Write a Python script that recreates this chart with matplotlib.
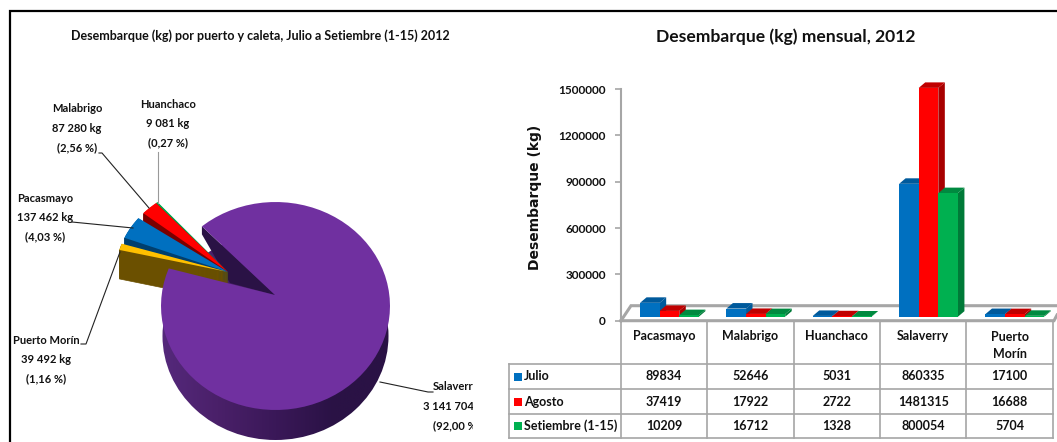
import numpy as np
import matplotlib
matplotlib.use("Agg")
import matplotlib.pyplot as plt
from matplotlib.patches import Polygon, Ellipse, Rectangle

plt.rcParams['font.family'] = ['Lato', 'DejaVu Sans']
plt.rcParams['font.weight'] = 'bold'

# pie data
pie_names = ["Huanchaco", "Malabrigo", "Pacasmayo", "Puerto Morín"]
pie_kg = [9081, 87280, 137462, 39492]
pie_kg_text = ["9 081 kg", "87 280 kg", "137 462 kg", "39 492 kg"]
pie_pct_text = ["(0,27 %)", "(2,56 %)", "(4,03 %)", "(1,16 %)"]
big_name = "Salaverry"
big_kg = 3141704
big_kg_text = "3 141 704 kg"
big_pct_text = "(92,00 %)"

# bar / table data
ports = ["Pacasmayo", "Malabrigo", "Huanchaco", "Salaverry", "Puerto\nMorín"]
months = ["Julio", "Agosto", "Setiembre (1-15)"]
julio = [89834, 52646, 5031, 860335, 17100]
agosto = [37419, 17922, 2722, 1481315, 16688]
setiembre = [10209, 16712, 1328, 800054, 5704]
yticks = [0, 300000, 600000, 900000, 1200000, 1500000]

W, H = 1057, 442
fig = plt.figure(figsize=(W / 100, H / 100), dpi=100, facecolor='white')

ov = fig.add_axes([0, 0, 1, 1])
ov.set_xlim(0, W)
ov.set_ylim(H, 0)
ov.axis('off')

# frame
ov.plot([10, 10, W], [H, 10.5, 10.5], color='black', lw=1.6, solid_joinstyle='miter', zorder=1)


def arc(cx, cy, rx, ry, a0, a1, n=80):
    t = np.radians(np.linspace(a0, a1, n))
    return np.column_stack([cx + rx * np.cos(t), cy - ry * np.sin(t)])


def pie_slice(apex, cx, cy, rx, ry, a0, a1):
    return np.vstack([[apex], arc(cx, cy, rx, ry, a0, a1)])


total = sum(pie_kg) + big_kg
start = 130.0
small_angle = sum(pie_kg) / total * 360

# Salaverry
apex = (275, 295)
ecx, ecy, erx, ery = 275.5, 306, 114.5, 104
a0 = start + small_angle
a1 = start + big_kg / total * 360 + small_angle

cmap = matplotlib.colors.LinearSegmentedColormap.from_list(
    'side', ['#55297c', '#4a2069', '#3a1858', '#2a1245', '#2a1245'])
im = ov.imshow(np.linspace(0, 1, 256)[None, :], extent=(160, 392, H, 200), aspect='auto', cmap=cmap, zorder=2)
clip = Ellipse((ecx, ecy + 30), 2 * 113, 2 * 104, transform=ov.transData)
im.set_clip_path(clip)
ov.set_xlim(0, W)
ov.set_ylim(H, 0)

# dark wall inside the cut
p_out = arc(ecx, ecy, erx, ery, start, start, 1)[0]
small_apex = np.array([228.0, 272.0])
ov.add_patch(Polygon([p_out, p_out + [0, 8], small_apex + [2, 11], apex], closed=True,
                     fc='#2a1245', ec='none', zorder=3))

# small exploded slices, gaps in degrees between them
gaps = [0, 0, 4, 4]
top_cols = ['#00b050', '#ff0000', '#0070c0', '#ffc000']
side_cols = ['#00602c', '#7a0000', '#003f6e', '#6b5000']
depths = [9, 9, 9, 29]
angle = start - 1.0
z = 4
for kg, gap, tc, sc, d in zip(pie_kg, gaps, top_cols, side_cols, depths):
    angle += gap
    span = kg / total * 360
    pts = pie_slice(small_apex, small_apex[0], small_apex[1], 112, 90, angle, angle + span)
    for k in range(d):
        ov.add_patch(Polygon(pts + [0, k + 1], closed=True, fc=sc, ec=sc, lw=0.5, zorder=z))
    ov.add_patch(Polygon(pts, closed=True, fc=tc, ec='none', zorder=z + 1))
    angle += span
    z += 2

ov.add_patch(Polygon(pie_slice(apex, ecx, ecy, erx, ery, a0, a1), closed=True,
                     fc='#7030a0', ec='none', zorder=20))

# leader lines
lead = dict(color='#222222', lw=0.8, zorder=21)
ov.plot([158, 158], [152, 203], color='#999999', lw=0.8, zorder=21)
ov.plot([99, 102, 149], [153, 153, 208], **lead)
ov.plot([72, 133], [222, 228], **lead)
ov.plot([81, 86, 120], [344, 344, 252], **lead)
ov.plot([380, 428, 433], [382, 392, 392], **lead)

# pie labels
label_pos = [(168, 104), (77, 109), (45, 198), (46, 340)]
for name, kgt, pct, (lx, ly) in zip(pie_names, pie_kg_text, pie_pct_text, label_pos):
    for i, s in enumerate([name, kgt, pct]):
        ov.text(lx, ly + i * 19.5, s, ha='center', va='center', fontsize=8, color='#111111', zorder=22)
clip_rect = Rectangle((0, 0), 473, H, transform=ov.transData)
for i, s in enumerate([big_name, big_kg_text, big_pct_text]):
    t = ov.text(456, 386 + i * 20, s, ha='center', va='center', fontsize=8, color='#111111', zorder=22)
    t.set_clip_path(clip_rect)
    t.set_clip_on(True)

ov.text(260, 36, "Desembarque (kg) por puerto y caleta, Julio a Setiembre (1-15) 2012",
        ha='center', va='center', fontsize=9, color='#111111')
ov.text(786, 37, "Desembarque (kg) mensual, 2012", ha='center', va='center', fontsize=12.6, color='#111111')

# table
gray = '#a6a6a6'
col_x = [621 + i * 86.35 for i in range(6)]
row_y = [364, 389, 414, 438]
for x in col_x:
    ov.plot([x, x], [320.7, 438], color=gray, lw=1.2, zorder=1)
for y in row_y:
    ov.plot([509, col_x[-1]], [y, y], color=gray, lw=1.2, zorder=1)
ov.plot([509, 509], [364, 438], color=gray, lw=1.2, zorder=1)

key_cols = ['#0070c0', '#ff0000', '#00b050']
row_values = [julio, agosto, setiembre]
for r, (month, vals, kc) in enumerate(zip(months, row_values, key_cols)):
    yc = (row_y[r] + row_y[r + 1]) / 2
    ov.add_patch(Rectangle((514, yc - 4), 8, 8, fc=kc, ec='none', zorder=2))
    ov.text(524, yc, month, ha='left', va='center', fontsize=9, color='#111111')
    for c, v in enumerate(vals):
        ov.text((col_x[c] + col_x[c + 1]) / 2, yc, str(v), ha='center', va='center',
                fontsize=9, color='#111111')
for c, p in enumerate(ports):
    ov.text((col_x[c] + col_x[c + 1]) / 2, 336 if '\n' not in p else 345.5, p, ha='center', va='center',
            fontsize=9, color='#111111', linespacing=1.5)

# floor
ov.plot([621, 631, W], [320.7, 305.7, 305.7], color=gray, lw=2.2, zorder=1, solid_joinstyle='miter')
ov.plot([621, 1054, W], [320.7, 320.7, 315], color=gray, lw=2.2, zorder=1, solid_joinstyle='miter')

# bars
ax = fig.add_axes([621 / W, (H - 320.7) / H, 5 * 86.35 / W, 231.7 / H], facecolor='none')
ax.set_xlim(-0.5, 4.5)
ax.set_ylim(0, 1500000)

px_x = 1 / 86.35
px_y = 1500000 / 231.7
bw = 19.6 * px_x
shift = 5.3 * px_x
dx = 6.5 * px_x
dy = 5.5 * px_y
base = 4 * px_y

bar_cols = ['#0070c0', '#ff0000', '#00b050']
bar_tops = ['#005a9c', '#c00000', '#008a40']
bar_sides = ['#005a9c', '#a80000', '#007a38']
for c in range(len(ports)):
    for s, vals in enumerate(row_values):
        x0 = c + shift + (s - 1.5) * bw
        v = vals[c]
        tp = base + v
        ax.fill([x0 + bw, x0 + bw + dx, x0 + bw + dx, x0 + bw],
                [base, base + dy, tp + dy, tp], color=bar_sides[s], lw=0, clip_on=False, zorder=3 + s)
        ax.fill([x0, x0 + dx, x0 + bw + dx, x0 + bw],
                [tp, tp + dy, tp + dy, tp], color=bar_tops[s], lw=0, clip_on=False, zorder=3 + s)
        ax.bar(x0, v, bw, bottom=base, align='edge', color=bar_cols[s], lw=0, clip_on=False, zorder=3 + s)

ax.set_xticks([])
ax.set_yticks(yticks)
ax.set_yticklabels([str(v) for v in yticks], fontsize=8.5, color='#111111')
ax.tick_params(axis='y', length=4, width=1.2, color=gray, pad=7)
for sp in ['top', 'right', 'bottom']:
    ax.spines[sp].set_visible(False)
ax.spines['left'].set_color(gray)
ax.spines['left'].set_linewidth(1.5)

ov.text(535, 197, "Desembarque (kg)", rotation=90, ha='center', va='center', fontsize=10,
        family='DejaVu Sans', color='#111111')

fig.savefig('out.png', dpi=100)
